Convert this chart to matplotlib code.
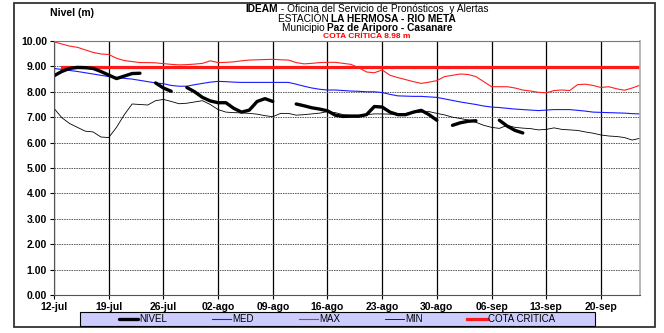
import numpy as np
import matplotlib
matplotlib.use("Agg")
import matplotlib.pyplot as plt
from matplotlib.patches import Rectangle

plt.rcParams['font.family'] = ['Liberation Sans', 'DejaVu Sans']

# days counted from 12-jul
tick_labels = ["12-jul", "19-jul", "26-jul", "02-ago", "09-ago", "16-ago",
               "23-ago", "30-ago", "06-sep", "13-sep", "20-sep"]
cota = 8.98

nan = np.nan
nivel = [8.63, 8.80, 8.92, 8.96, 8.95, 8.92, 8.80, 8.66, 8.52, 8.62,
         8.72, 8.73, nan, 8.35, 8.15, 8.02, nan, 8.17, 8.00, 7.78,
         7.64, 7.57, 7.57, 7.35, 7.20, 7.28, 7.62, 7.73, 7.62, nan,
         nan, 7.52, 7.45, 7.37, 7.32, 7.25, 7.08, 7.03, 7.04, 7.04,
         7.10, 7.42, 7.40, 7.20, 7.10, 7.10, 7.20, 7.27, 7.10, 6.88,
         nan, 6.68, 6.78, 6.84, 6.86, nan, nan, 6.88, 6.65, 6.48,
         6.38]

med = [8.92, 8.88, 8.84, 8.80, 8.75, 8.70, 8.65, 8.60, 8.57, 8.53,
       8.50, 8.45, 8.40, 8.35, 8.32, 8.25, 8.22, 8.22, 8.28, 8.33,
       8.38, 8.41, 8.40, 8.38, 8.37, 8.37, 8.37, 8.37, 8.37, 8.37,
       8.37, 8.30, 8.22, 8.15, 8.10, 8.07, 8.07, 8.05, 8.03, 8.02,
       8.00, 8.00, 7.97, 7.90, 7.84, 7.83, 7.82, 7.82, 7.80, 7.78,
       7.72, 7.66, 7.60, 7.55, 7.50, 7.44, 7.40, 7.38, 7.35, 7.32,
       7.30, 7.28, 7.26, 7.28, 7.30, 7.30, 7.30, 7.27, 7.24, 7.20,
       7.19, 7.18, 7.17, 7.16, 7.14, 7.13]

vmax = [9.97, 9.88, 9.80, 9.75, 9.65, 9.55, 9.49, 9.47, 9.32, 9.23,
        9.19, 9.15, 9.15, 9.14, 9.11, 9.08, 9.06, 9.07, 9.09, 9.12,
        9.22, 9.15, 9.16, 9.18, 9.22, 9.25, 9.26, 9.27, 9.28, 9.26,
        9.25, 9.15, 9.10, 9.12, 9.15, 9.16, 9.16, 9.12, 9.08, 8.95,
        8.78, 8.75, 8.86, 8.65, 8.56, 8.48, 8.40, 8.33, 8.38, 8.44,
        8.60, 8.65, 8.70, 8.68, 8.60, 8.40, 8.20, 8.20, 8.20, 8.15,
        8.07, 8.03, 7.98, 7.96, 8.05, 8.07, 8.05, 8.28, 8.30, 8.25,
        8.17, 8.20, 8.12, 8.06, 8.15, 8.26]

vmin = [7.35, 6.98, 6.75, 6.60, 6.45, 6.42, 6.22, 6.20, 6.60, 7.10,
        7.52, 7.50, 7.48, 7.65, 7.70, 7.62, 7.53, 7.55, 7.60, 7.65,
        7.50, 7.30, 7.20, 7.18, 7.17, 7.15, 7.12, 7.06, 7.02, 7.15,
        7.15, 7.08, 7.10, 7.13, 7.16, 7.22, 7.18, 7.10, 7.08, 7.08,
        7.10, 7.13, 7.13, 7.12, 7.12, 7.15, 7.18, 7.20, 7.22, 7.15,
        7.09, 7.00, 6.95, 6.89, 6.80, 6.68, 6.60, 6.56, 6.68, 6.60,
        6.57, 6.55, 6.50, 6.52, 6.58, 6.52, 6.50, 6.48, 6.42, 6.37,
        6.30, 6.26, 6.24, 6.20, 6.10, 6.17]

W, H = 664, 333
fig = plt.figure(figsize=(W / 100, H / 100), dpi=100)
ax = fig.add_axes([54 / W, 1 - 295 / H, (640 - 54) / W, (295 - 41) / H])

days_n = np.arange(len(nivel))
days = np.arange(len(med))

ax.plot(days, vmax, color="#ff2020", lw=0.8, label="MAX")
ax.plot(days, med, color="#1a1aff", lw=0.8, label="MED")
ax.plot(days, vmin, color="black", lw=0.6, label="MIN")
ax.plot(days[1:], [cota] * (len(days) - 1), color="#ff1a1a", lw=2.3, label="COTA CRITICA")
ax.plot(days_n, nivel, color="black", lw=2.4, solid_capstyle="round", label="NIVEL")

ax.set_xlim(0, 75)
ax.set_ylim(0, 10)
ax.set_xticks(np.arange(0, 71, 7))
ax.set_xticklabels(tick_labels)
ax.set_yticks(np.arange(0, 11, 1))
ax.set_yticklabels(["%.2f" % v for v in range(11)])
ax.tick_params(labelsize=7.5, length=3, width=0.8, pad=2)
for lab in ax.get_xticklabels() + ax.get_yticklabels():
    lab.set_fontweight("bold")

ax.yaxis.grid(True, color="#555555", ls=(0, (1.5, 1)), lw=0.7)
ax.xaxis.grid(True, color="black", ls="-", lw=0.9)
ax.set_axisbelow(True)
ax.spines["top"].set_linestyle((0, (1.5, 1)))
ax.spines["top"].set_color("#777777")
ax.spines["right"].set_color("#aaaaaa")
ax.spines["right"].set_linewidth(1.2)
ax.spines["left"].set_color("#555555")
ax.spines["bottom"].set_color("#555555")

# outer frame
fig.patches.append(Rectangle((14 / W, 1 - 327 / H), (655 - 14) / W, (327 - 3) / H,
                             transform=fig.transFigure, fill=False,
                             edgecolor="#333333", lw=1.3))

fig.text(50 / W, 1 - 13 / H, "Nivel (m)", fontsize=7.5, fontweight="bold", va="center")

# title lines with mixed weights
renderer = fig.canvas.get_renderer()


def mixed_line(parts, yc, xc=367, size=7.3, color="black"):
    texts = []
    for s, w in parts:
        t = fig.text(0, 1 - yc / H, s, fontsize=size, fontweight=w, color=color, va="center")
        texts.append(t)
    widths = [t.get_window_extent(renderer).width for t in texts]
    x = xc - sum(widths) / 2
    for t, w in zip(texts, widths):
        t.set_x(x / W)
        x += w


mixed_line([("IDEAM", "bold"), (" - Oficina del Servicio de Pronósticos  y Alertas", "normal")], 9)
mixed_line([("ESTACIÓN ", "normal"), ("LA HERMOSA - RIO META", "bold")], 18.5)
mixed_line([("Municipio ", "normal"), ("Paz de Ariporo - Casanare", "bold")], 28)
mixed_line([("COTA CRÍTICA 8.98 m", "bold")], 37, size=6, color="#ff0000")

# legend box drawn separately, legend entries centred inside
fig.patches.append(Rectangle((80 / W, 1 - 326 / H), (595 - 80) / W, 14 / H,
                             transform=fig.transFigure, facecolor="#ccccff",
                             edgecolor="black", lw=0.8))
h = ax.get_legend_handles_labels()
order = ["NIVEL", "MED", "MAX", "MIN", "COTA CRITICA"]
hd = dict(zip(h[1], h[0]))
leg = fig.legend([hd[k] for k in order], order, ncol=5,
                 bbox_to_anchor=(337 / W, 1 - 319 / H), loc="center",
                 fontsize=7, frameon=False, handlelength=2.0, handletextpad=0.1,
                 columnspacing=4.6, borderpad=0, borderaxespad=0)

fig.savefig("out.png", dpi=100)
